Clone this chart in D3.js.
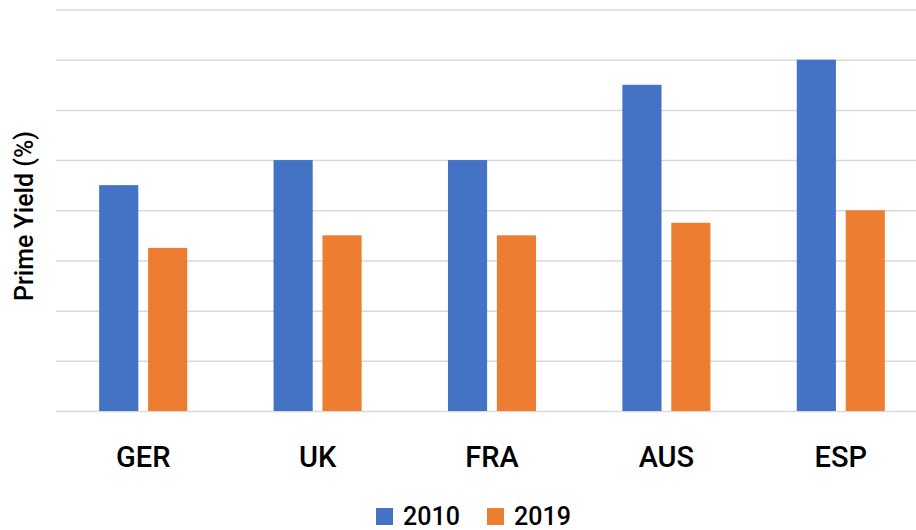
<!DOCTYPE html>
<html>
<head>
<meta charset="utf-8">
<script src="https://cdn.jsdelivr.net/npm/d3@7"></script>
<style>
  body { margin: 0; background: #fff; }
  text { font-family: Roboto, "DejaVu Sans", sans-serif; fill: #000; font-weight: 500; }
</style>
</head>
<body>
<div id="chart"></div>
<script>
// chart data
var countries = ["GER", "UK", "FRA", "AUS", "ESP"];
var seriesNames = ["2010", "2019"];
var values2010 = [4.5, 5, 5, 6.5, 7];
var values2019 = [3.25, 3.5, 3.5, 3.75, 4];
var gridTicks = [0, 1, 2, 3, 4, 5, 6, 7, 8];
var colors = ["#4472C4", "#ED7D31"];

var svgWidth = 916;
var svgHeight = 530;

var margin = { top: 9.5, right: -12, bottom: 119, left: 56 };
var width = svgWidth - margin.left - margin.right;
var height = svgHeight - margin.top - margin.bottom;

var svg = d3.select("#chart")
    .append("svg")
    .attr("width", svgWidth)
    .attr("height", svgHeight);

var chartGroup = svg.append("g")
    .attr("transform", `translate(${margin.left}, ${margin.top})`);

var rows = countries.map(function (c, i) {
    return { country: c, values: [values2010[i], values2019[i]] };
});

// scales
var x0 = d3.scaleBand()
    .domain(countries)
    .range([0, width])
    .paddingInner(0.495)
    .paddingOuter(0.2475);

var x1 = d3.scaleBand()
    .domain(seriesNames)
    .range([0, x0.bandwidth()])
    .paddingInner(0.2);

var y = d3.scaleLinear()
    .domain([0, 8])
    .range([height, 0]);

// gridlines
chartGroup.append("g")
    .attr("class", "grid")
    .call(d3.axisLeft(y).tickValues(gridTicks).tickSize(-width).tickFormat(""))
    .call(g => g.select(".domain").remove())
    .call(g => g.selectAll("line").attr("stroke", "#d9d9d9").attr("stroke-width", 1.5));

// bars
var groups = chartGroup.selectAll(".country")
    .data(rows)
    .enter()
    .append("g")
    .attr("class", "country")
    .attr("transform", d => `translate(${x0(d.country)}, 0)`);

groups.selectAll("rect")
    .data(d => d.values.map((v, i) => ({ key: seriesNames[i], value: v, idx: i })))
    .enter()
    .append("rect")
    .attr("x", d => x1(d.key))
    .attr("y", d => y(d.value))
    .attr("width", x1.bandwidth())
    .attr("height", d => y(0) - y(d.value))
    .attr("fill", d => colors[d.idx]);

// x axis labels
chartGroup.append("g")
    .attr("transform", `translate(0, ${height})`)
    .call(d3.axisBottom(x0).tickSize(0).tickPadding(0))
    .call(g => g.select(".domain").remove())
    .call(g => g.selectAll("text")
        .attr("dy", 0)
        .attr("y", 55.5)
        .style("font-size", "29px")
        .style("font-family", "Roboto, sans-serif")
        .style("font-weight", 500)
        .attr("fill", "#000"));

// y axis title
svg.append("text")
    .attr("transform", `translate(33, 216) rotate(-90)`)
    .attr("text-anchor", "middle")
    .style("font-size", "25px")
    .text("Prime Yield (%)");

// legend
var legend = svg.append("g").attr("class", "legend");
var legendX = [376, 487];
seriesNames.forEach(function (name, i) {
    legend.append("rect")
        .attr("x", legendX[i])
        .attr("y", 508)
        .attr("width", 17)
        .attr("height", 17)
        .attr("fill", colors[i]);
    legend.append("text")
        .attr("x", legendX[i] + 27)
        .attr("y", 525)
        .style("font-size", "25px")
        .text(name);
});
</script>
</body>
</html>
